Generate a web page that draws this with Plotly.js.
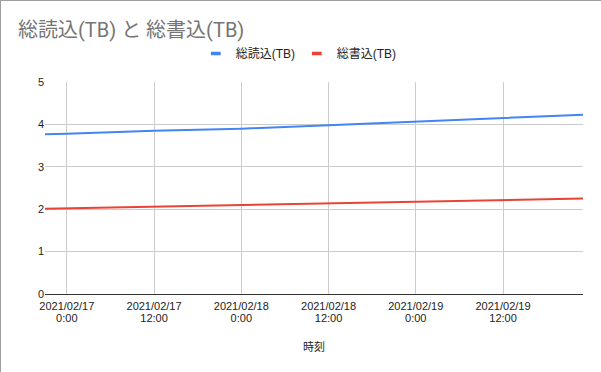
<!DOCTYPE html>
<html>
<head>
<meta charset="utf-8">
<script src="https://cdn.plot.ly/plotly-3.0.1.min.js"></script>
<style>
html,body{margin:0;padding:0;background:#fff;}
#chart{width:600px;height:371px;border-left:1px solid #9e9e9e;border-top:1px solid #9e9e9e;}
</style>
</head>
<body>
<div id="chart"></div>
<script>
// Data
const times = ["2021-02-16 21:00","2021-02-17 00:00","2021-02-17 12:00","2021-02-18 00:00","2021-02-18 12:00","2021-02-19 00:00","2021-02-19 12:00","2021-02-19 23:00"];
const readTB = [3.77, 3.78, 3.85, 3.90, 3.98, 4.06, 4.15, 4.23];
const writeTB = [2.01, 2.02, 2.06, 2.10, 2.14, 2.18, 2.22, 2.25];
const seriesNames = ["総読込(TB)", "総書込(TB)"];
const seriesColors = ["#4285F4", "#EA4335"];
const tickVals = ["2021-02-17 00:00","2021-02-17 12:00","2021-02-18 00:00","2021-02-18 12:00","2021-02-19 00:00","2021-02-19 12:00"];
const tickText = ["2021/02/17<br>0:00","2021/02/17<br>12:00","2021/02/18<br>0:00","2021/02/18<br>12:00","2021/02/19<br>0:00","2021/02/19<br>12:00"];
const xRange = ["2021-02-16 21:00","2021-02-19 23:00"];

const font = "Arial, 'Liberation Sans', 'Noto Sans CJK JP', sans-serif";

const seriesValues = [readTB, writeTB];
const traces = [];
seriesValues.forEach((vals, i) => {
  traces.push({x: times, y: vals, name: seriesNames[i], type: 'scatter', mode: 'lines',
    line: {color: seriesColors[i], width: 2}, showlegend: false});
});
// legend-only entries with short swatches
seriesValues.forEach((vals, i) => {
  traces.push({x: [null], y: [null], name: seriesNames[i], type: 'scatter', mode: 'markers',
    marker: {symbol: 'line-ew-open', size: 7, color: seriesColors[i], line: {color: seriesColors[i], width: 3.5}},
    showlegend: true});
});

const layout = {
  width: 600, height: 371,
  margin: {l: 44, r: 18, t: 81, b: 78, pad: 0},
  paper_bgcolor: '#fff', plot_bgcolor: '#fff',
  font: {family: font, size: 12, color: '#222'},
  title: {
    text: "総読込(TB) と 総書込(TB)",
    font: {family: "Roboto, Arial, 'Noto Sans CJK JP', sans-serif", size: 20, color: '#757575'},
    xref: 'container', x: 17/600, xanchor: 'left',
    yref: 'container', y: 1 - 29/371, yanchor: 'middle'
  },
  showlegend: true,
  legend: {
    orientation: 'h', x: 0.468, xanchor: 'center', y: 1.135, yanchor: 'middle',
    font: {size: 12, color: '#222'}, itemwidth: 30, tracegroupgap: 0,
    entrywidth: 56, entrywidthmode: 'pixels'
  },
  xaxis: {
    type: 'date', range: xRange,
    tickvals: tickVals, ticktext: tickText,
    showgrid: true, gridcolor: '#cccccc', gridwidth: 1,
    zeroline: false, showline: false, ticks: '',
    ticklabelstandoff: 4,
    tickfont: {size: 11, color: '#222'},
    title: {text: '時刻', font: {size: 11, color: '#222'}, standoff: 18},
    automargin: false
  },
  yaxis: {
    range: [0, 5], dtick: 1, tick0: 0,
    showgrid: true, gridcolor: '#cccccc', gridwidth: 1,
    zeroline: true, zerolinecolor: '#333333', zerolinewidth: 1,
    showline: false, ticks: '',
    tickfont: {size: 11, color: '#222'},
    automargin: false
  }
};

Plotly.newPlot('chart', traces, layout, {displayModeBar: false, staticPlot: true}).then(gd => {
  // tighten the line spacing of the two-line date tick labels
  gd.querySelectorAll('.xtick text tspan.line').forEach(t => {
    const dy = t.getAttribute('dy');
    if (dy && parseFloat(dy) !== 0) t.setAttribute('dy', '12px');
  });
});
</script>
</body>
</html>
